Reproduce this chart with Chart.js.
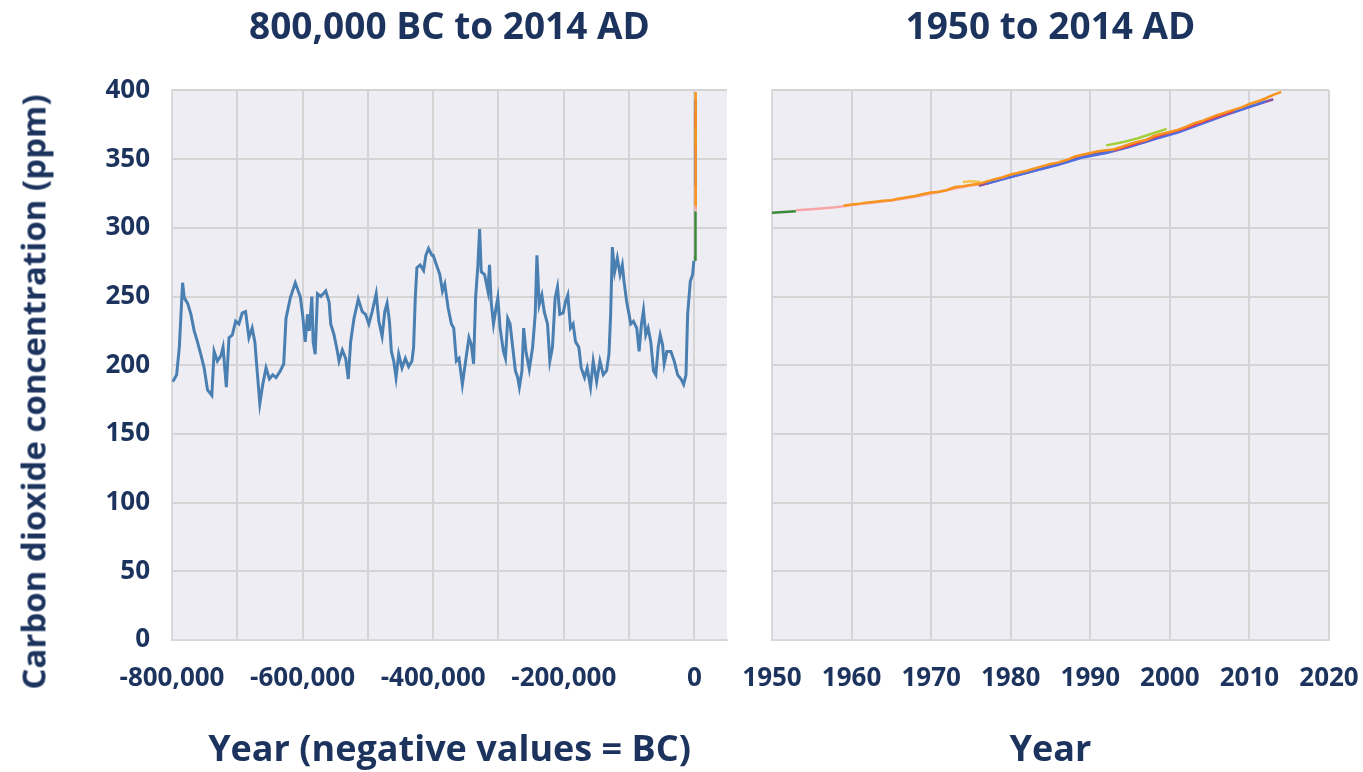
<!DOCTYPE html>
<html>
<head>
<meta charset="utf-8">
<script src="https://cdn.jsdelivr.net/npm/chart.js@4"></script>
<style>
  body { margin: 0; background: #fff; width: 1363px; height: 772px; overflow: hidden; font-family: "Open Sans", sans-serif; }
  .box { position: absolute; top: 0; height: 772px; }
  #leftBox { left: 0; width: 740px; }
  #rightBox { left: 740px; width: 623px; }
  #yTitle {
    position: absolute; left: 33px; top: 392px;
    transform: translate(-50%, -50%) rotate(-90deg);
    white-space: nowrap; color: #1c335e;
    font: bold 33px "Open Sans", sans-serif;
  }
</style>
</head>
<body>
<div class="box" id="leftBox"><canvas id="leftChart"></canvas></div>
<div class="box" id="rightBox"><canvas id="rightChart"></canvas></div>
<div id="yTitle">Carbon dioxide concentration (ppm)</div>
<script>
// ice core record (years, negative = BC)
const iceYears = [-799000,-796400,-792900,-788800,-783800,-781200,-776000,-771000,-766000,-761000,-756000,-750700,-745600,-739000,-735500,-730500,-725000,-721800,-716800,-712700,-707600,-702500,-697500,-692400,-687300,-682200,-677200,-673100,-669600,-665500,-661000,-656000,-650800,-645700,-640600,-634000,-628900,-625400,-618800,-611200,-603600,-600000,-596000,-592400,-589800,-585800,-583800,-580700,-577200,-572100,-564500,-559400,-556900,-551800,-546700,-544200,-539100,-534000,-530000,-526400,-521300,-514700,-508600,-503600,-498500,-493400,-487300,-483200,-478200,-474100,-470600,-467000,-464000,-460400,-456900,-452800,-447700,-442600,-437600,-432500,-430000,-427400,-424900,-419800,-414700,-411200,-407100,-402000,-400000,-394900,-389800,-385800,-382200,-377200,-372100,-368500,-364500,-360400,-355300,-350300,-345200,-341600,-338100,-335000,-331500,-328900,-326400,-321300,-316200,-313700,-311200,-307600,-303600,-301000,-297500,-292400,-289300,-285800,-282200,-278200,-274100,-270600,-268000,-264000,-261400,-257900,-252800,-247700,-243700,-241100,-237600,-233500,-229900,-224900,-221300,-217300,-213200,-209600,-206100,-201000,-197400,-193800,-189700,-185600,-182000,-176900,-173300,-168200,-164100,-159000,-154900,-149700,-144600,-139500,-134400,-130800,-128200,-125600,-122100,-118000,-113800,-110300,-107700,-103600,-100000,-97400,-93300,-88200,-84600,-81000,-77900,-74400,-70800,-66700,-62600,-59000,-55400,-52300,-48700,-46200,-42100,-35900,-30800,-25600,-20500,-16400,-12800,-10300,-6200,-2600,-800];
const iceCO2 = [188,190,193,213,260,249,245,237,225,217,208,198,182,178,210,203,207,213,184,220,222,232,230,238,239,220,227,217,196,172,186,198,190,193,191,196,201,234,249,260,250,237,217,237,225,250,217,208,252,250,254,246,230,222,210,203,211,205,190,217,234,248,239,237,230,239,252,232,221,239,245,232,210,203,191,208,198,205,199,203,213,249,271,273,269,280,285,280,280,273,266,254,259,242,230,227,203,205,186,203,220,215,201,249,273,299,268,266,254,273,246,230,242,249,227,210,205,234,230,213,196,191,184,196,227,210,197,213,237,280,244,251,239,230,203,213,249,257,237,238,246,251,227,230,217,213,198,191,198,184,203,188,203,193,196,208,237,286,268,278,266,273,261,246,237,230,232,227,210,230,240,222,227,217,196,193,213,222,215,201,210,210,203,193,190,186,193,237,261,266,276];

// Law Dome ice core
const lawDomeYears = [1006,1200,1400,1600,1750,1800,1850,1900,1940,1950,1953];
const lawDomeCO2 = [279,281,280,276,277,283,286,296,310,311,312];
// Siple Station ice core
const sipleYears = [1953,1955,1958,1960,1963,1965,1968,1970,1973,1975,1976];
const sipleCO2 = [312.7,313.5,315,316.5,318.5,319.8,322.5,325,328.5,331,331.5];
// Mauna Loa, Hawaii
const maunaLoaYears = [1959,1960,1961,1962,1963,1964,1965,1966,1967,1968,1969,1970,1971,1972,1973,1974,1975,1976,1977,1978,1979,1980,1981,1982,1983,1984,1985,1986,1987,1988,1989,1990,1991,1992,1993,1994,1995,1996,1997,1998,1999,2000,2001,2002,2003,2004,2005,2006,2007,2008,2009,2010,2011,2012,2013,2014];
const maunaLoaCO2 = [316.0,316.9,317.6,318.5,319.0,319.6,320.0,321.4,322.2,323.1,324.6,325.7,326.3,327.5,329.7,330.2,331.1,332.0,333.8,335.4,336.8,338.8,340.1,341.5,343.2,344.9,346.4,347.6,349.3,351.7,353.2,354.5,355.7,356.5,357.2,359.0,361.0,362.7,363.9,366.8,368.5,369.7,371.3,373.5,376.0,377.7,380.0,382.1,384.0,385.8,387.6,390.1,391.9,394.1,396.7,398.9];
// short flask record
const yellowYears = [1974,1975,1976.2];
const yellowCO2 = [333.4,333.8,333.3];
// Barrow, Alaska
const purpleYears = [1976,1979,1982,1985,1988,1991,1994,1997,2000,2003,2006,2009,2013];
const purpleCO2 = [330.6,335.4,340.0,344.8,350.2,354.4,357.8,362.6,368.4,374.6,380.6,386.0,393.6];
// Cape Matatula, American Samoa
const blueYears = [1977,1980,1983,1986,1989,1992,1995,1998,2001,2004,2007,2010,2012];
const blueCO2 = [332.3,337.0,341.5,345.8,351.2,354.5,359.0,364.5,369.3,375.7,382.0,388.1,392.0];
// South Pole
const redYears = [1993,1996,1999,2002,2005,2008];
const redCO2 = [356.4,361.9,367.7,372.6,379.2,385.0];
// Cape Grim, Australia
const limeYears = [1992,1994,1996,1998,1999.6];
const limeCO2 = [360.0,362.2,365.2,369.0,372.0];

// axis ticks
const leftXTicks = [-800000,-700000,-600000,-500000,-400000,-300000,-200000,-100000,0];
const rightXTicks = [1950,1960,1970,1980,1990,2000,2010,2020];
const yTicks = [0,50,100,150,200,250,300,350,400];

const textColor = '#1c335e';
const gridColor = '#d4d4d4';
const fontFamily = '"Open Sans", sans-serif';

function pts(xs, ys) {
  return xs.map((x, i) => ({x: x, y: ys[i]}));
}

function line(xs, ys, color, width) {
  return {
    data: pts(xs, ys),
    borderColor: color,
    borderWidth: width || 2.5,
    pointRadius: 0,
    fill: false,
    tension: 0
  };
}

// modern records, first one is drawn on top
function modernSets() {
  return [
    line(maunaLoaYears, maunaLoaCO2, '#f7941d'),
    line(limeYears, limeCO2, '#a3cf3a'),
    line(yellowYears, yellowCO2, '#f6c24a'),
    line(redYears, redCO2, '#e63a5c'),
    line(blueYears, blueCO2, '#4f6fe0'),
    line(purpleYears, purpleCO2, '#8e4f9b'),
    line(sipleYears, sipleCO2, '#f7a6a6'),
    line(lawDomeYears, lawDomeCO2, '#3b8a3b')
  ];
}

const plotBg = {
  id: 'plotBg',
  beforeDraw(chart) {
    const a = chart.chartArea;
    const ctx = chart.ctx;
    ctx.save();
    ctx.fillStyle = '#efedf4';
    ctx.fillRect(a.left, a.top, a.right - a.left, a.bottom - a.top);
    ctx.restore();
  }
};

function useTicks(values) {
  return s => { s.ticks = values.map(v => ({value: v})); };
}

function yAxis(showLabels, width) {
  return {
    min: 0, max: 400,
    afterBuildTicks: useTicks(yTicks),
    ticks: {
      display: showLabels, padding: 22, color: textColor,
      font: {family: fontFamily, size: 26, weight: 'bold'}
    },
    grid: {color: gridColor, lineWidth: 2, drawTicks: false},
    border: {color: '#d9d9d9', width: 2},
    afterFit: s => { s.width = width; }
  };
}

function xAxis(min, max, values, fmt, title) {
  return {
    type: 'linear', min: min, max: max,
    afterBuildTicks: useTicks(values),
    ticks: {
      autoSkip: false, maxRotation: 0, padding: 23, color: textColor,
      font: {family: fontFamily, size: 26, weight: 'bold'},
      callback: fmt
    },
    grid: {color: gridColor, lineWidth: 2, drawTicks: false},
    border: {color: '#d9d9d9', width: 2},
    title: {
      display: true, text: title, color: textColor,
      font: {family: fontFamily, size: 36, weight: 'bold'},
      padding: {top: 0, bottom: 0}
    },
    afterFit: s => { s.height = 132; s.paddingLeft = 0; s.paddingRight = 0; }
  };
}

function chartTitle(text) {
  return {
    display: true, text: text, color: textColor, fullSize: false,
    font: {family: fontFamily, size: 37, weight: 'bold'},
    padding: {top: 6, bottom: 40}
  };
}

new Chart(document.getElementById('leftChart'), {
  type: 'line',
  data: {
    datasets: [line(iceYears, iceCO2, '#4a7fb1', 3)].concat(modernSets())
  },
  options: {
    responsive: true, maintainAspectRatio: false, animation: false,
    layout: {padding: {right: 13}},
    plugins: {legend: {display: false}, tooltip: {enabled: false}, title: chartTitle('800,000 BC to 2014 AD')},
    scales: {
      x: xAxis(-800000, 50000, leftXTicks,
        v => (v % 200000 === 0 ? v.toLocaleString('en-US') : ''),
        'Year (negative values = BC)'),
      y: yAxis(true, 172)
    }
  },
  plugins: [plotBg]
});

new Chart(document.getElementById('rightChart'), {
  type: 'line',
  data: {datasets: modernSets()},
  options: {
    responsive: true, maintainAspectRatio: false, animation: false,
    layout: {padding: {right: 34}},
    plugins: {legend: {display: false}, tooltip: {enabled: false}, title: chartTitle('1950 to 2014 AD')},
    scales: {
      x: xAxis(1950, 2020, rightXTicks, v => String(v), 'Year'),
      y: yAxis(false, 32)
    }
  },
  plugins: [plotBg]
});
</script>
</body>
</html>
